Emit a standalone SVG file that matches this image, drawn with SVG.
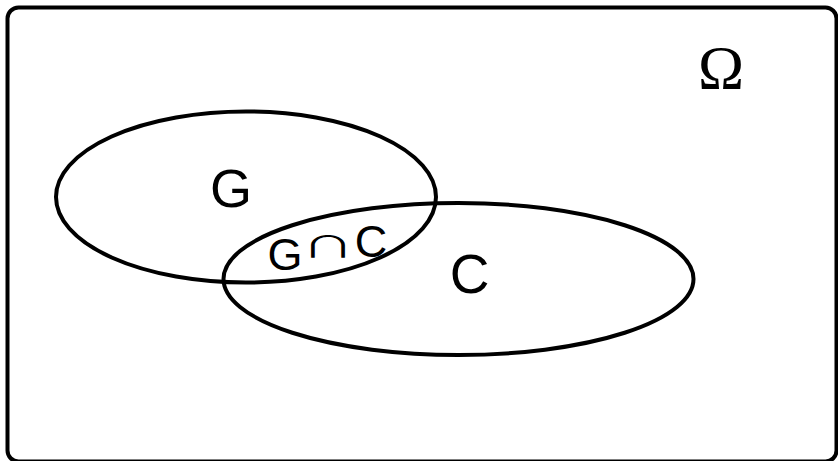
<svg xmlns="http://www.w3.org/2000/svg" width="838" height="461" viewBox="0 0 838 461">
  <style>
    .outline { fill: none; stroke: #000; stroke-width: 4; }
    .label { font-family: "Liberation Sans", Arial, sans-serif; fill: #000; text-anchor: middle; }
    .cap { font-family: "Noto Sans CJK JP", "DejaVu Sans", sans-serif; fill: #000; text-anchor: middle; }
    .omega { font-family: "Liberation Serif", "Times New Roman", serif; fill: #000; text-anchor: middle; }
  </style>
  <rect width="838" height="461" fill="#fff"/>
  <!-- universe -->
  <g id="universe">
    <rect class="outline" x="7.5" y="7.5" width="829" height="454" rx="11" stroke-width="4.5"/>
    <text class="omega" x="721" y="88" font-size="62">Ω</text>
  </g>
  <!-- set G -->
  <g id="set-g">
    <ellipse class="outline" cx="246" cy="197" rx="190" ry="85.5"/>
    <text class="label" x="231" y="207" font-size="54">G</text>
  </g>
  <!-- set C -->
  <g id="set-c">
    <ellipse class="outline" cx="458.5" cy="279" rx="235" ry="76"/>
    <text class="label" x="469.5" y="293" font-size="55">C</text>
  </g>
  <!-- intersection -->
  <g id="intersection">
    <text class="label" x="285" y="270" font-size="45">G</text>
    <text class="cap" transform="translate(328 257) scale(1.05 0.6)" x="0" y="0" font-size="50">∩</text>
    <text class="label" x="371" y="257" font-size="45">C</text>
  </g>
</svg>
